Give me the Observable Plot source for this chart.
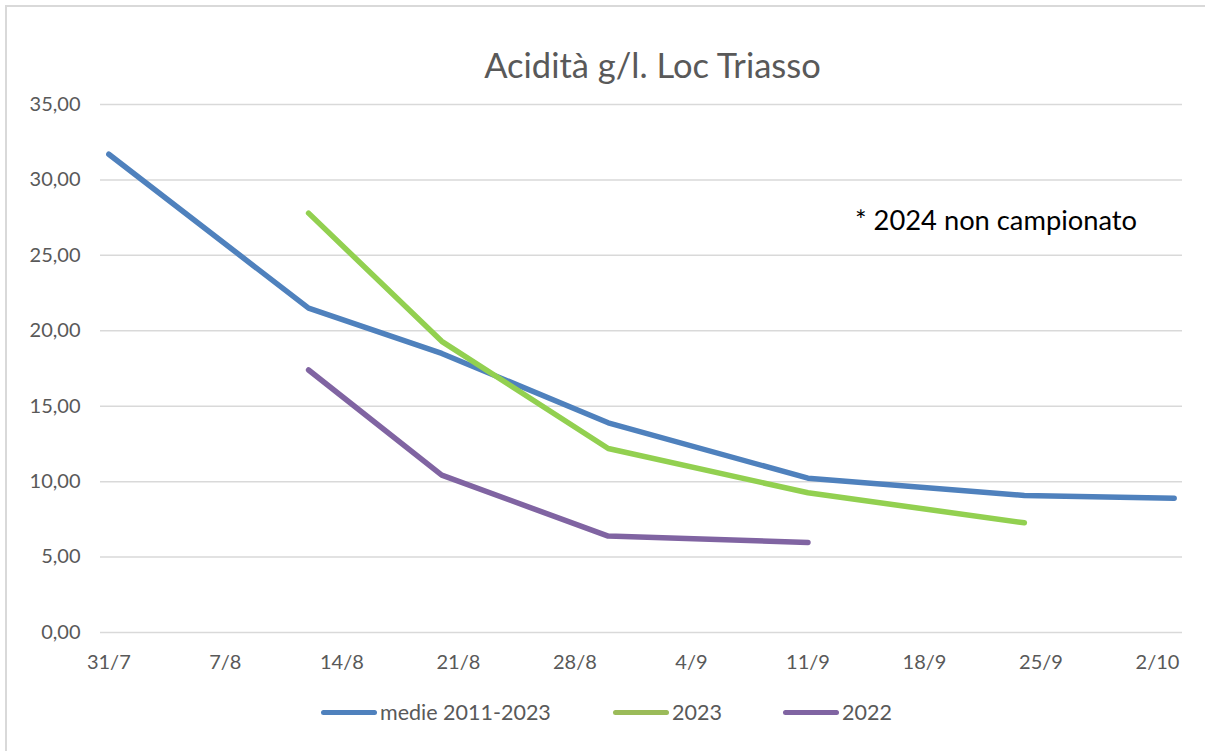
<!DOCTYPE html>
<html><head><meta charset="utf-8">
<script src="https://cdn.jsdelivr.net/npm/d3@7"></script>
<script src="https://cdn.jsdelivr.net/npm/@observablehq/plot@0.6"></script>
<style>
body{margin:0;background:#fff;}
#wrap{position:relative;width:1205px;height:751px;overflow:hidden;font-family:Lato,"Open Sans",sans-serif;background:#fff;}
#frame{position:absolute;left:5px;top:5px;width:1230px;height:780px;border:2px solid #d9d9d9;box-sizing:border-box;}
#chart{position:absolute;left:0;top:0;}
#title{position:absolute;top:44px;left:50px;width:1205px;text-align:center;font-size:34.5px;color:#595959;line-height:42px;}
#note{position:absolute;left:855px;top:203px;font-size:27.3px;color:#000;line-height:34px;white-space:nowrap;}
.lg{position:absolute;top:698px;height:28px;display:flex;align-items:center;font-size:21.5px;color:#595959;white-space:nowrap;}
.sw{display:inline-block;width:56px;height:5px;border-radius:3px;margin-right:3px;}
</style></head>
<body>
<div id="wrap">
  <div id="frame"></div>
  <div id="chart"></div>
  <div id="title">Acidità g/l. Loc Triasso</div>
  <div id="note">* 2024 non campionato</div>
  <div class="lg" style="left:321px"><span class="sw" style="background:#4F81BD"></span>medie 2011-2023</div>
  <div class="lg" style="left:613px"><span class="sw" style="background:#9BBB59"></span>2023</div>
  <div class="lg" style="left:783px"><span class="sw" style="background:#8064A2"></span>2022</div>
</div>
<script>
const dates = ["31/7","12/8","20/8","30/8","11/9","24/9","3/10"];
const medie = [31.7, 21.5, 18.5, 13.9, 10.23, 9.08, 8.9];
const y2023 = [null, 27.8, 19.3, 12.2, 9.26, 7.27, null];
const y2022 = [null, 17.4, 10.43, 6.39, 5.97, null, null];
const xTickLabels = ["31/7","7/8","14/8","21/8","28/8","4/9","11/9","18/9","25/9","2/10"];
const yTicks = [0,5,10,15,20,25,30,35];

const parse = s => { const [d,m] = s.split("/").map(Number); return new Date(Date.UTC(2023, m-1, d)); };
const mk = (vals) => dates.map((d,i) => ({date: parse(d), v: vals[i]})).filter(r => r.v != null);

const font = 'Lato, "Open Sans", sans-serif';
const chart = Plot.plot({
  width: 1205, height: 751,
  marginLeft: 100, marginRight: 23, marginTop: 104, marginBottom: 119,
  style: {fontFamily: font, fontSize: "20px", color: "#595959", background: "transparent"},
  x: {type: "utc", domain: [new Date(Date.UTC(2023,6,30,12)), new Date(Date.UTC(2023,9,3,12))]},
  y: {domain: [0, 35]},
  marks: [
    Plot.ruleY(yTicks, {stroke: "#d9d9d9", strokeWidth: 1.5}),
    Plot.line(mk(medie), {x: "date", y: "v", stroke: "#4F81BD", strokeWidth: 5.5, strokeLinecap: "round", strokeLinejoin: "round"}),
    Plot.line(mk(y2023), {x: "date", y: "v", stroke: "#92D050", strokeWidth: 5.5, strokeLinecap: "round", strokeLinejoin: "round"}),
    Plot.line(mk(y2022), {x: "date", y: "v", stroke: "#8064A2", strokeWidth: 5.5, strokeLinecap: "round", strokeLinejoin: "round"}),
    Plot.axisY({ticks: yTicks, tickSize: 0, tickPadding: 20, label: null, tickFormat: d => d.toFixed(2).replace(".", ",")}),
    Plot.axisX({ticks: xTickLabels.map(parse), tickSize: 0, tickPadding: 22, label: null, tickFormat: d => `${d.getUTCDate()}/${d.getUTCMonth()+1}`})
  ]
});
document.getElementById("chart").appendChild(chart);
</script>
</body></html>
